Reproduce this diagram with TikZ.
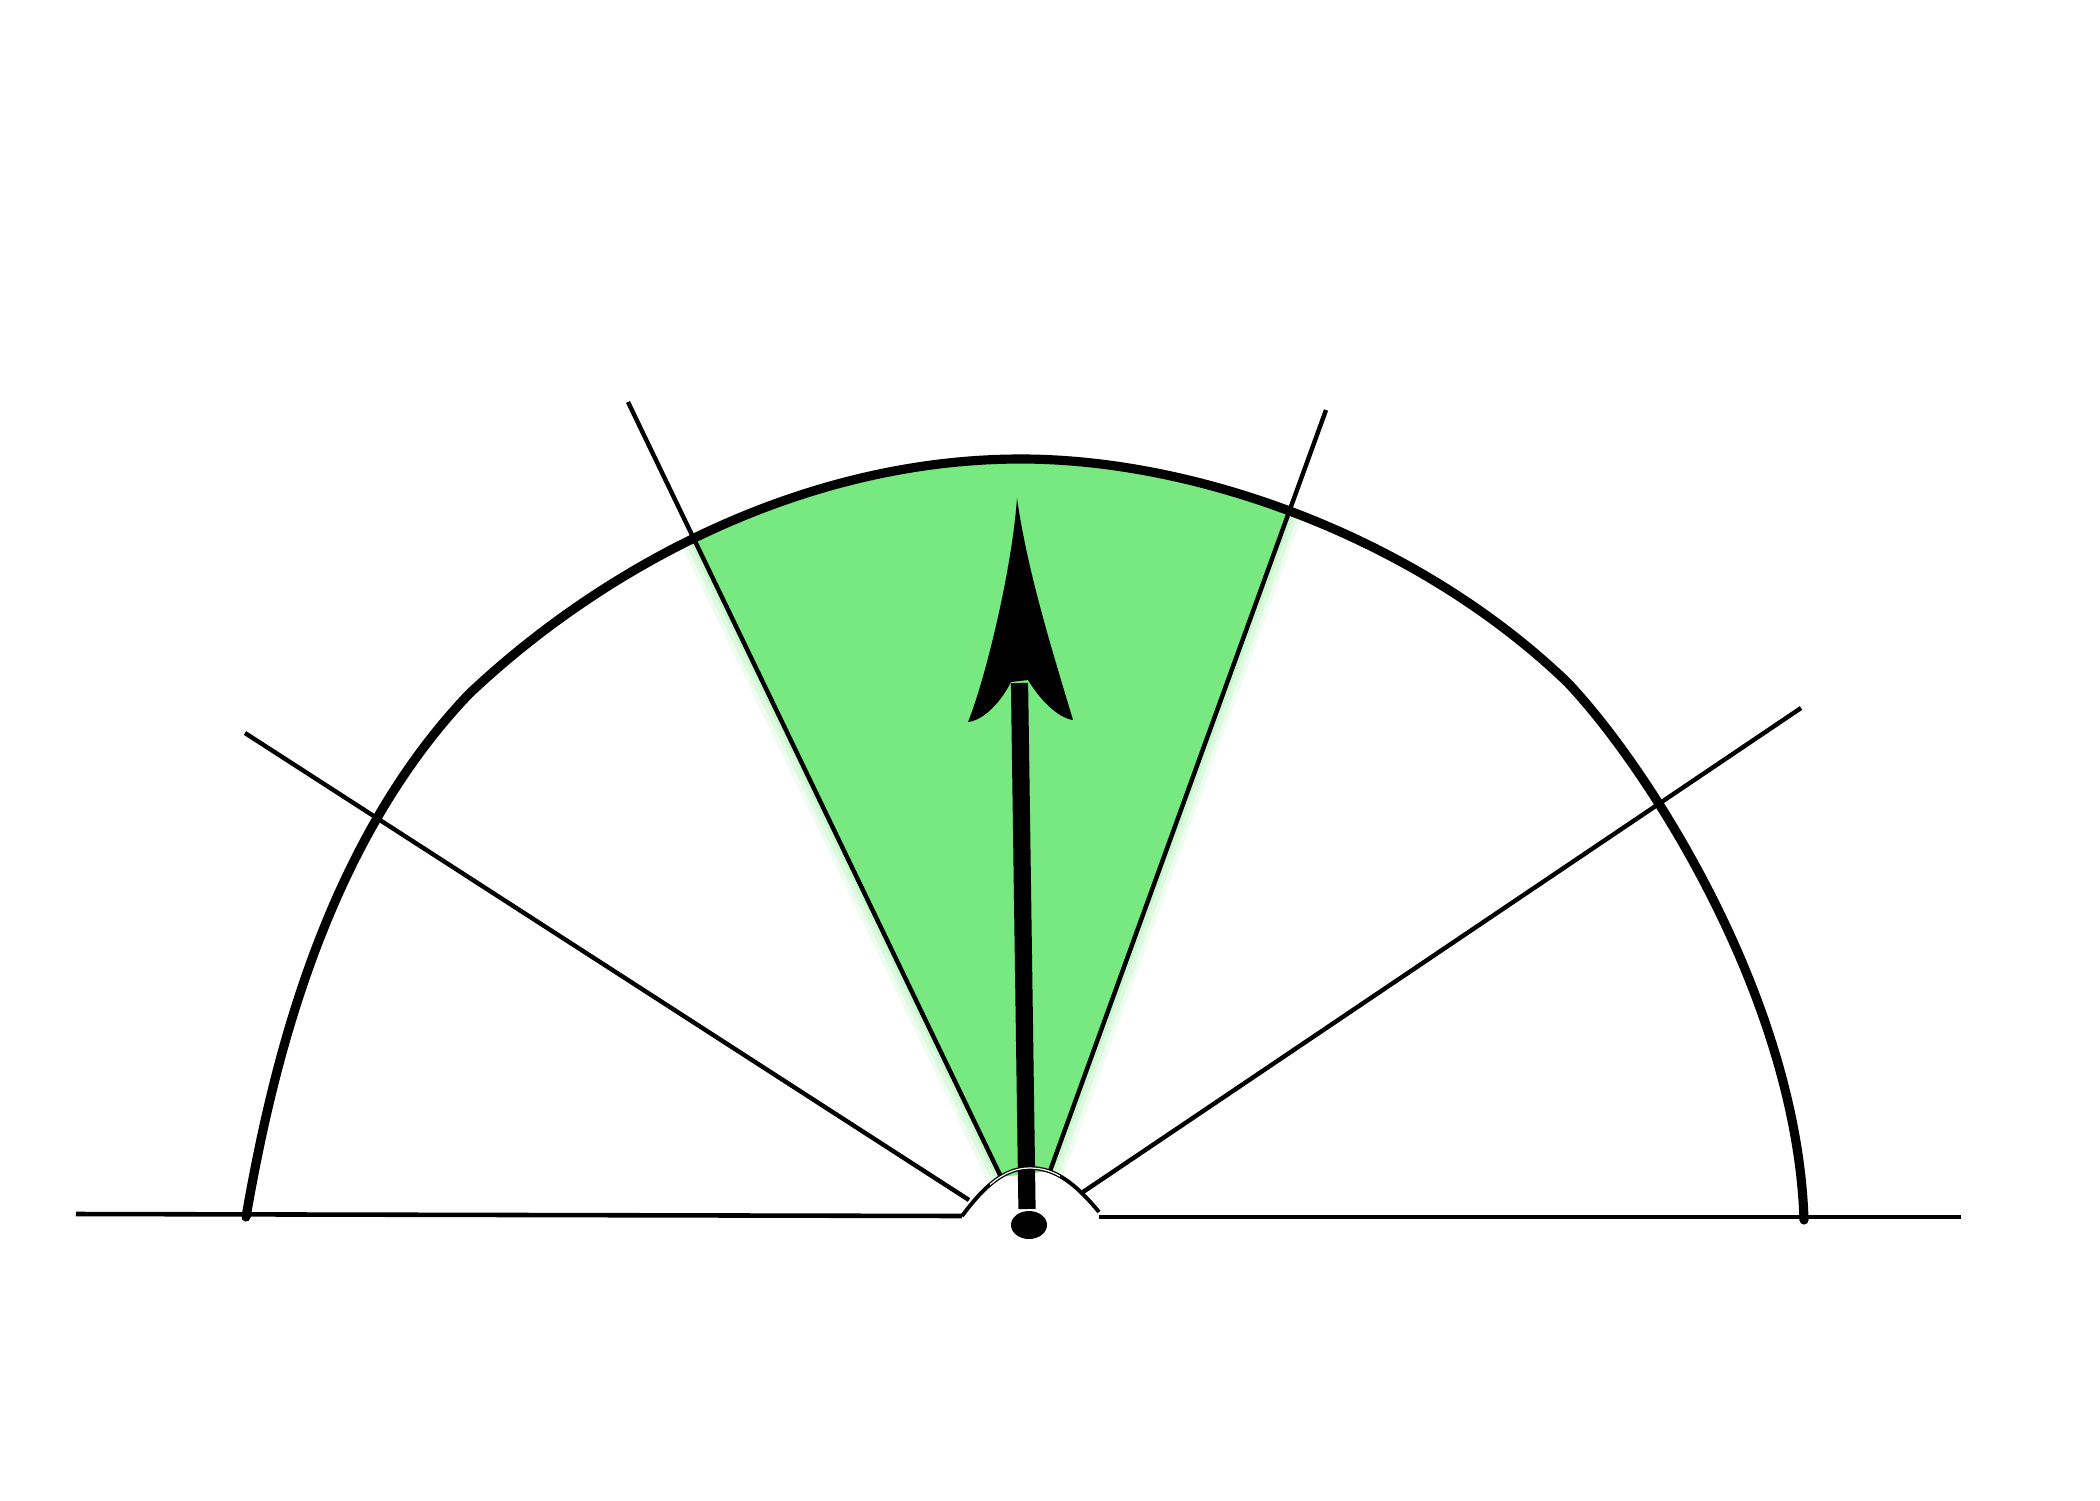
\documentclass[tikz,border=0pt]{standalone}
\usetikzlibrary{calc}
\definecolor{sectorgreen}{RGB}{120,232,128}
\tikzset{
  thinline/.style={line width=1.25pt},
  baseline/.style={line width=1.3pt},
  outerarc/.style={line width=2.6pt, line cap=round, line join=round},
  shaft/.style={line width=4.9pt},
}
\def\arcpath{(246,1217) .. controls (270,1080) and (320,850) .. (469,694)
  .. controls (600,570) and (800,459) .. (1021,459)
  .. controls (1200,459) and (1420,540) .. (1568,683)
  .. controls (1650,770) and (1797,1000) .. (1804,1220)}
\begin{document}
\begin{tikzpicture}[x=0.01cm,y=-0.01cm]
\useasboundingbox (0,0) rectangle (2100,1500);
% named points
\coordinate (blL) at (76,1214);
\coordinate (blLend) at (962,1216);
\coordinate (blR) at (1099,1217);
\coordinate (blRend) at (1961,1217);
\coordinate (ulTop) at (628,402);
\coordinate (ulBot) at (1001,1177);
\coordinate (urTop) at (1326,410);
\coordinate (urBot) at (1050,1171);
\coordinate (llTop) at (245,733);
\coordinate (llBot) at (969,1200);
\coordinate (lrTop) at (1801,708);
\coordinate (lrBot) at (1083,1192);
\coordinate (shaftBot) at (1027,1209);
\coordinate (shaftTop) at (1019.5,683);
\coordinate (tip) at (1017,498);
\coordinate (barbL) at (968,722);
\coordinate (barbR) at (1073,720);
\coordinate (joinL) at (1011,682);
\coordinate (joinR) at (1028,680);

% green sector
\begin{scope}
  \clip (ulBot) -- ($(ulBot)!1.2!(ulTop)$) -- ($(urBot)!1.2!(urTop)$) -- (urBot) -- cycle;
  \fill[sectorgreen] \arcpath -- cycle;
\end{scope}
% soft glow on sector edges
\begin{scope}
  \clip \arcpath -- cycle;
  \foreach \w/\o in {8pt/0.12,5.5pt/0.15,3pt/0.2}{
    \draw[sectorgreen,line width=\w,opacity=\o] (ulBot) -- (ulTop);
    \draw[sectorgreen,line width=\w,opacity=\o] (urBot) -- (urTop);
  }
\end{scope}

% baseline
\draw[baseline] (blL) -- (blLend);
\draw[baseline] (blR) -- (blRend);

% radial lines
\draw[thinline] (llTop) -- (llBot);
\draw[thinline] (ulTop) -- (ulBot);
\draw[thinline] (urTop) -- (urBot);
\draw[thinline] (lrTop) -- (lrBot);

% outer arc
\draw[outerarc] \arcpath;

% arrow shaft and head
\draw[shaft] (shaftBot) -- (shaftTop);
\fill (tip) .. controls (1012,570) and (985,680) .. (barbL)
  .. controls (985,720) and (1002,700) .. (joinL)
  -- (joinR)
  .. controls (1040,700) and (1058,718) .. (barbR)
  .. controls (1052,650) and (1027,570) .. (tip) -- cycle;

% bump
\draw[line width=1.1pt] (blLend) .. controls (985,1185) and (1005,1168) .. (1030,1168)
  .. controls (1055,1168) and (1075,1183) .. (1099,1212);
\begin{scope}
  \clip (990,1100) rectangle (1060,1250);
  \draw[white,line width=0.35pt] (blLend) .. controls (985,1185) and (1005,1168) .. (1030,1168)
  .. controls (1055,1168) and (1075,1183) .. (1099,1212);
\end{scope}

% pivot dot
\fill (1029,1225) ellipse [x radius=18, y radius=14];
\end{tikzpicture}
\end{document}
